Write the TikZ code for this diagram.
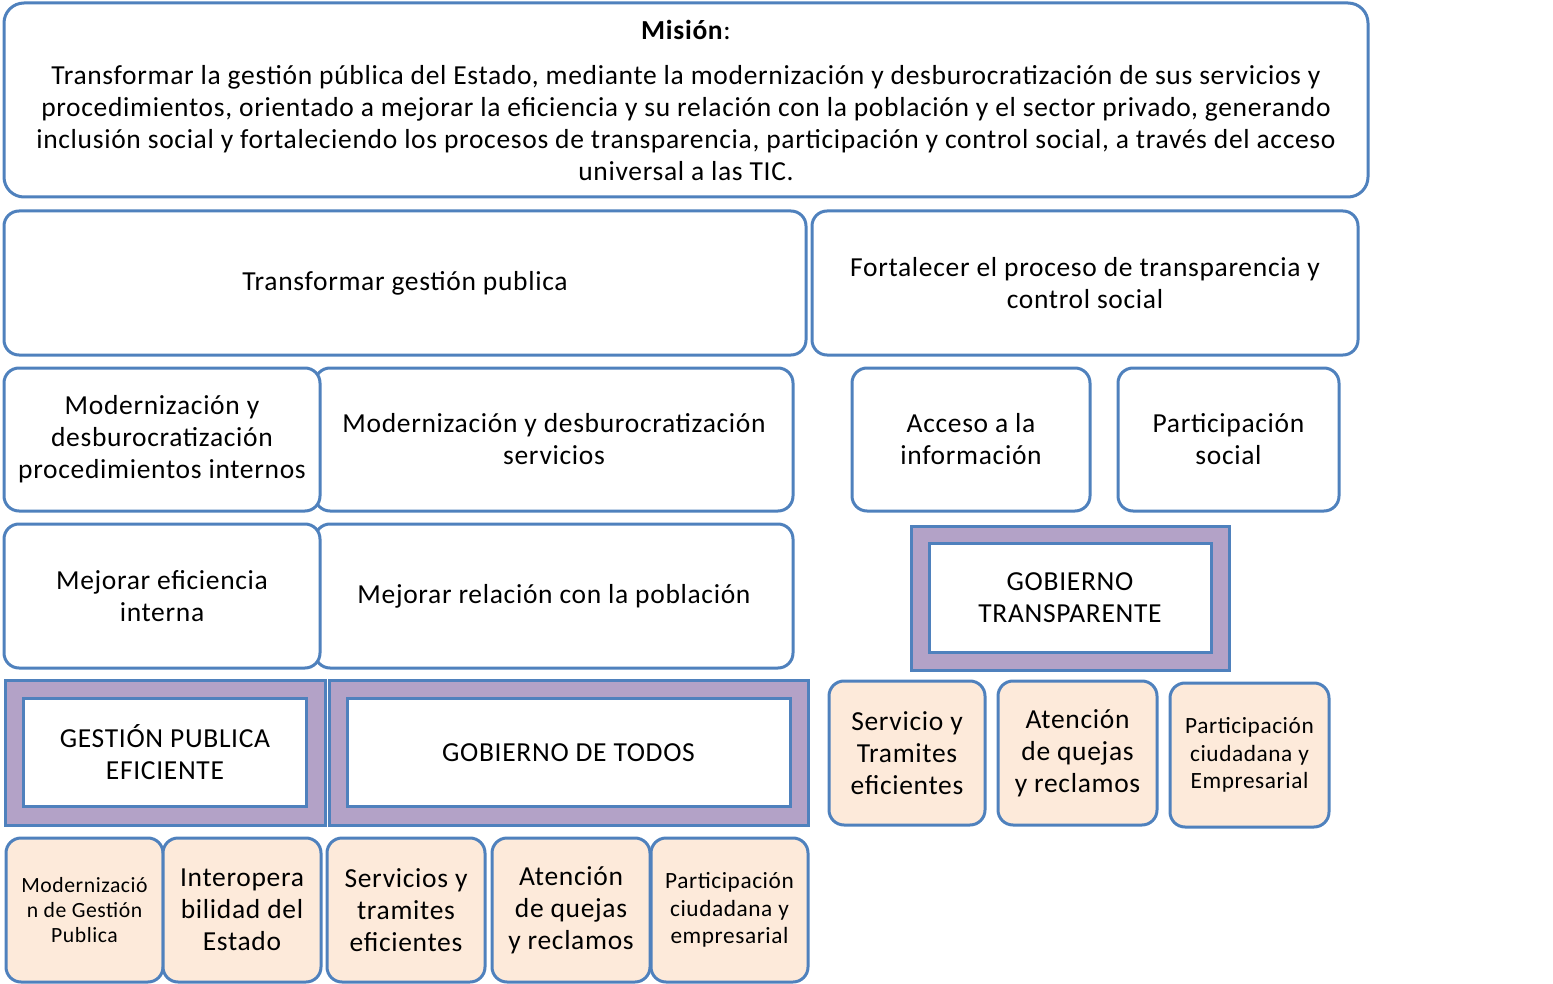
\documentclass[tikz,border=0pt]{standalone}
\usepackage{fontspec}
\setmainfont{Carlito}[LetterSpace=2.5]
\usetikzlibrary{positioning}

\definecolor{boxblue}{HTML}{4F81BD}
\definecolor{peach}{HTML}{FDEADA}
\definecolor{lilac}{HTML}{B3A2C7}

\tikzset{
  box/.style={draw=boxblue, line width=3pt, rounded corners=15pt, fill=white,
    align=center, inner sep=0pt, font=\fontsize{27.5}{32}\selectfont},
  goal/.style={box, fill=peach},
  frame/.style={draw=boxblue, line width=3pt, fill=lilac, inner sep=0pt},
  core/.style={draw=boxblue, line width=3pt, fill=white, align=center, inner sep=0pt,
    font=\fontsize{27.5}{32}\selectfont},
  smalltext/.style={font=\fontsize{21.7}{25}\selectfont},
  midtext/.style={font=\fontsize{23.3}{27.5}\selectfont}
}

\begin{document}
\begin{tikzpicture}[x=1pt, y=-1pt]
  \useasboundingbox (0,0) rectangle (1553,984);

  % mision
  \node[box, rounded corners=20pt, minimum width=1364pt, minimum height=194pt] (mision) at (686,100)
    {\textbf{Misión}:\\[13pt]
     Transformar la gestión pública del Estado, mediante la modernización y desburocratización de sus servicios y\\
     procedimientos, orientado a mejorar la eficiencia y su relación con la población y el sector privado, generando\\
     inclusión social y fortaleciendo los procesos de transparencia, participación y control social, a través del acceso\\
     universal a las TIC.};

  % objetivos
  \node[box, minimum width=802pt, minimum height=144pt] (transf) at (405,283) {Transformar gestión publica};
  \node[box, minimum width=546pt, minimum height=144pt] (fortal) at (1085,283)
    {Fortalecer el proceso de transparencia y\\control social};

  \node[box, minimum width=478pt, minimum height=143pt] (modserv) at (554,439.5)
    {Modernización y desburocratización\\servicios};
  \node[box, minimum width=316pt, minimum height=143pt] (modproc) at (162,439.5)
    {Modernización y\\desburocratización\\procedimientos internos};
  \node[box, minimum width=238pt, minimum height=143pt] (acceso) at (971,439.5) {Acceso a la\\información};
  \node[box, minimum width=221pt, minimum height=143pt] (partsoc) at (1228.5,439.5) {Participación\\social};

  \node[box, minimum width=478pt, minimum height=144pt] (relacion) at (554,596) {Mejorar relación con la población};
  \node[box, minimum width=316pt, minimum height=144pt] (eficien) at (162,596) {Mejorar eficiencia\\interna};

  % programas
  \node[frame, minimum width=318pt, minimum height=144pt] (gtframe) at (1070,598) {};
  \node[core, minimum width=282pt, minimum height=109pt] (gt) at (gtframe.center) {GOBIERNO\\TRANSPARENTE};

  \node[frame, minimum width=320pt, minimum height=145pt] (gpeframe) at (165,752.5) {};
  \node[core, minimum width=283pt, minimum height=108pt] (gpe) at (gpeframe.center) {GESTIÓN PUBLICA\\EFICIENTE};

  \node[frame, minimum width=479pt, minimum height=145pt] (gdtframe) at (568.5,752.5) {};
  \node[core, minimum width=443pt, minimum height=108pt] (gdt) at (gdtframe.center) {GOBIERNO DE TODOS};

  % lineas
  \node[goal, minimum width=156pt, minimum height=144pt] (tramites) at (907,753) {Servicio y\\Tramites\\eficientes};
  \node[goal, minimum width=159pt, minimum height=144pt] (quejas) at (1077.5,753) {Atención\\de quejas\\y reclamos};
  \node[goal, midtext, minimum width=159pt, minimum height=144pt] (partemp) at (1249.5,755)
    {Participación\\ciudadana y\\Empresarial};

  \node[goal, smalltext, minimum width=157pt, minimum height=144pt] (modgest) at (84.5,910)
    {Modernizació\\n de Gestión\\Publica};
  \node[goal, minimum width=158pt, minimum height=144pt] (interop) at (242,910) {Interopera\\bilidad del\\Estado};
  \node[goal, minimum width=158pt, minimum height=144pt] (servtram) at (406,910) {Servicios y\\tramites\\eficientes};
  \node[goal, minimum width=158pt, minimum height=144pt] (quejas2) at (571,910) {Atención\\de quejas\\y reclamos};
  \node[goal, midtext, minimum width=157pt, minimum height=144pt] (partciu) at (729.5,910)
    {Participación\\ciudadana y\\empresarial};
\end{tikzpicture}
\end{document}
